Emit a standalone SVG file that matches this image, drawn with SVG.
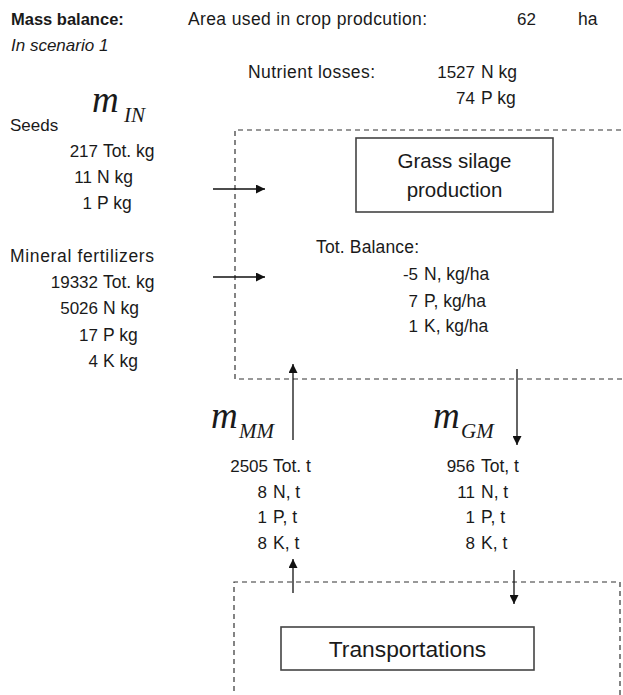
<svg xmlns="http://www.w3.org/2000/svg" width="623" height="695" viewBox="0 0 623 695">
  <style>
    text { font-family: "Liberation Sans", Arial, sans-serif; font-size: 17px; fill: #1a1a1a; }
    .bold { font-weight: bold; font-size: 16.5px; }
    .it { font-style: italic; }
    .lbl { font-size: 17.5px; }
    .u { font-size: 17.5px; }
    .big { font-size: 20.5px; }
    .m { font-family: "Liberation Serif", "Times New Roman", serif; font-style: italic; font-size: 37px; }
    .sub { font-family: "Liberation Serif", "Times New Roman", serif; font-style: italic; font-size: 21px; }
    .boundary { fill: none; stroke: #333; stroke-width: 1.2; stroke-dasharray: 5 4; }
    .process { fill: #fff; stroke: #444; stroke-width: 1.6; }
    .flow { stroke: #111; stroke-width: 1.3; fill: none; marker-end: url(#head); }
  </style>
  <defs>
    <marker id="head" viewBox="0 0 10 10" refX="10" refY="5" markerWidth="9" markerHeight="9" markerUnits="userSpaceOnUse" orient="auto">
      <path d="M0,0 L10,5 L0,10 z" fill="#111"/>
    </marker>
  </defs>

  <rect width="623" height="695" fill="#fff"/>

  <!-- header -->
  <g id="header">
    <text class="bold" x="11" y="25">Mass balance:</text>
    <text class="it" x="11" y="51">In scenario 1</text>
    <text class="lbl" x="188" y="25" textLength="239" lengthAdjust="spacing">Area used in crop prodcution:</text>
    <text x="517" y="25">62</text>
    <text class="lbl" x="578" y="25">ha</text>
    <text class="lbl" x="248" y="78" textLength="127" lengthAdjust="spacing">Nutrient losses:</text>
    <text x="475" y="78" text-anchor="end">1527</text>
    <text class="u" x="481" y="78">N kg</text>
    <text x="475" y="104" text-anchor="end">74</text>
    <text class="u" x="481" y="104">P kg</text>
  </g>

  <!-- system boundaries -->
  <g id="boundary-production">
    <path class="boundary" d="M630,130 H235 V379 H630"/>
  </g>
  <g id="boundary-transport">
    <path class="boundary" d="M234,700 V582 H620 V700"/>
  </g>

  <!-- inputs -->
  <g id="input-seeds">
    <text class="m" x="92" y="112">m</text>
    <text class="sub" x="124" y="122">IN</text>
    <text x="10" y="131">Seeds</text>
    <text x="98" y="157" text-anchor="end">217</text><text class="u" x="103" y="157">Tot. kg</text>
    <text x="92" y="183" text-anchor="end">11</text><text class="u" x="97" y="183">N kg</text>
    <text x="92" y="209" text-anchor="end">1</text><text class="u" x="97" y="209">P kg</text>
  </g>
  <g id="input-fertilizers">
    <text class="lbl" x="10" y="262" textLength="144" lengthAdjust="spacing">Mineral fertilizers</text>
    <text x="98" y="288" text-anchor="end">19332</text><text class="u" x="103" y="288">Tot. kg</text>
    <text x="98" y="314" text-anchor="end">5026</text><text class="u" x="103" y="314">N kg</text>
    <text x="98" y="341" text-anchor="end">17</text><text class="u" x="103" y="341">P kg</text>
    <text x="98" y="367" text-anchor="end">4</text><text class="u" x="103" y="367">K kg</text>
  </g>

  <!-- processes -->
  <g id="grass-silage">
    <rect class="process" x="356" y="138" width="197" height="74"/>
    <text class="big" x="454.5" y="168" text-anchor="middle">Grass silage</text>
    <text class="big" x="454.5" y="197" text-anchor="middle">production</text>
  </g>
  <g id="balance">
    <text class="lbl" x="316" y="253" textLength="103" lengthAdjust="spacing">Tot. Balance:</text>
    <text x="418" y="280" text-anchor="end">-5</text><text class="u" x="424" y="280">N, kg/ha</text>
    <text x="418" y="307" text-anchor="end">7</text><text class="u" x="424" y="307">P, kg/ha</text>
    <text x="418" y="332" text-anchor="end">1</text><text class="u" x="424" y="332">K, kg/ha</text>
  </g>
  <g id="transportations">
    <rect class="process" x="281" y="627" width="253" height="43"/>
    <text x="407.5" y="657" text-anchor="middle" style="font-size:22.8px">Transportations</text>
  </g>

  <!-- flows between processes -->
  <g id="flow-mm">
    <text class="m" x="211" y="428">m</text>
    <text class="sub" x="239" y="438">MM</text>
    <text x="268" y="472" text-anchor="end">2505</text><text class="u" x="273" y="472">Tot. t</text>
    <text x="267" y="498" text-anchor="end">8</text><text class="u" x="273" y="498">N, t</text>
    <text x="267" y="523" text-anchor="end">1</text><text class="u" x="273" y="523">P, t</text>
    <text x="267" y="549" text-anchor="end">8</text><text class="u" x="273" y="549">K, t</text>
  </g>
  <g id="flow-gm">
    <text class="m" x="433" y="428">m</text>
    <text class="sub" x="461" y="438">GM</text>
    <text x="475" y="472" text-anchor="end">956</text><text class="u" x="481" y="472">Tot, t</text>
    <text x="475" y="498" text-anchor="end">11</text><text class="u" x="481" y="498">N, t</text>
    <text x="475" y="523" text-anchor="end">1</text><text class="u" x="481" y="523">P, t</text>
    <text x="475" y="549" text-anchor="end">8</text><text class="u" x="481" y="549">K, t</text>
  </g>

  <!-- connectors -->
  <g id="connectors">
    <line class="flow" x1="213" y1="189" x2="265" y2="189"/>
    <line class="flow" x1="213" y1="277" x2="265" y2="277"/>
    <line class="flow" x1="293" y1="440" x2="293" y2="364"/>
    <line class="flow" x1="517" y1="369" x2="517" y2="445"/>
    <line class="flow" x1="293" y1="593" x2="293" y2="559"/>
    <line class="flow" x1="514" y1="570" x2="514" y2="604"/>
  </g>
</svg>
